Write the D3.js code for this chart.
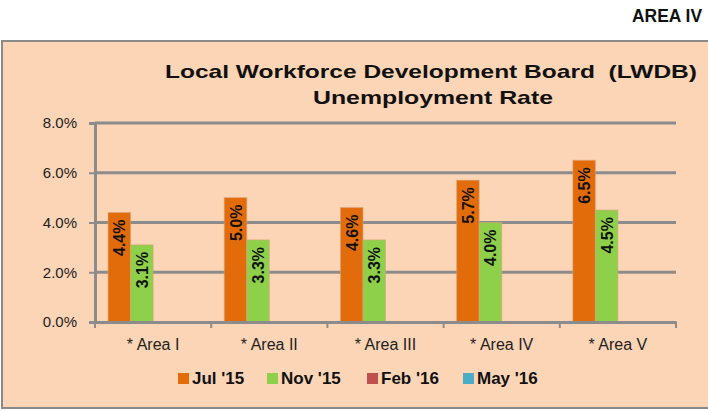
<!DOCTYPE html>
<html>
<head>
<style>
body { margin: 0; background: #fff; }
svg text { font-family: "Liberation Sans", Arial, sans-serif; white-space: pre; }
</style>
</head>
<body>
<svg id="chart" width="708" height="411"></svg>
<script src="https://d3js.org/d3.v7.min.js"></script>
<script>

var categories = ["* Area I", "* Area II", "* Area III", "* Area IV", "* Area V"];
var seriesNames = ["Jul '15", "Nov '15", "Feb '16", "May '16"];
var seriesColors = ["#E36C0A", "#8ED04A", "#C0504D", "#4BACC6"];
var jul15 = [4.4, 5.0, 4.6, 5.7, 6.5];
var nov15 = [3.1, 3.3, 3.3, 4.0, 4.5];
var feb16 = [null, null, null, null, null];
var may16 = [null, null, null, null, null];
var yTicks = [0, 2, 4, 6, 8];

var seriesValues = [jul15, nov15, feb16, may16];

var svg = d3.select("#chart"),
    margin = {top: 123, left: 95, right: 32, bottom: 89},
    width = +svg.attr("width") - margin.left - margin.right,
    height = +svg.attr("height") - margin.top - margin.bottom;

// header tag
svg.append("text")
    .attr("x", 632).attr("y", 22)
    .attr("font-weight", "bold")
    .attr("font-size", 18)
    .attr("textLength", 70)
    .attr("lengthAdjust", "spacingAndGlyphs")
    .attr("fill", "#111")
    .text("AREA IV");

// chart box
svg.append("rect")
    .attr("x", 2).attr("y", 41)
    .attr("width", 710).attr("height", 367)
    .attr("fill", "#FBD5B6")
    .attr("stroke", "#8a8a8a")
    .attr("stroke-width", 2);

svg.append("text")
    .attr("x", 165).attr("y", 78)
    .attr("font-weight", "bold")
    .attr("font-size", 19)
    .attr("textLength", 532)
    .attr("lengthAdjust", "spacingAndGlyphs")
    .attr("fill", "#111")
    .text("Local Workforce Development Board  (LWDB)");

svg.append("text")
    .attr("x", 313).attr("y", 104)
    .attr("font-weight", "bold")
    .attr("font-size", 19)
    .attr("textLength", 240)
    .attr("lengthAdjust", "spacingAndGlyphs")
    .attr("fill", "#111")
    .text("Unemployment Rate");

var g = svg.append("g").attr("transform", "translate(" + margin.left + "," + margin.top + ")");

var x0 = d3.scaleBand().domain(categories).range([0, width]).padding(0);
var x1 = d3.scaleBand().domain(seriesNames).range([0, x0.bandwidth()]).paddingInner(0).paddingOuter(0.58);
var y = d3.scaleLinear().domain([0, 8]).range([height, 0]);

// gridlines
g.append("g")
  .selectAll("line")
  .data(yTicks.filter(function(d) { return d > 0; }))
  .enter().append("line")
    .attr("x1", 0).attr("x2", width)
    .attr("y1", function(d) { return y(d); })
    .attr("y2", function(d) { return y(d); })
    .attr("stroke", "#8c8c8c")
    .attr("stroke-width", 3);

// y axis
var yAxis = g.append("g")
    .call(d3.axisLeft(y).tickValues(yTicks).tickSize(6).tickFormat(function(d) { return d.toFixed(1) + "%"; }));
yAxis.select(".domain").attr("stroke", "#8c8c8c").attr("stroke-width", 3);
yAxis.selectAll(".tick line").attr("stroke", "#8c8c8c").attr("stroke-width", 2);
yAxis.selectAll(".tick text").attr("x", -18).attr("font-size", 15).attr("fill", "#222");

// bars
var groups = g.append("g")
  .selectAll("g")
  .data(categories)
  .enter().append("g")
    .attr("transform", function(d) { return "translate(" + x0(d) + ",0)"; });

var barData = function(c, i) {
  return seriesNames.map(function(s, j) { return {series: s, color: seriesColors[j], value: seriesValues[j][i]}; })
    .filter(function(d) { return d.value != null; });
};

groups.selectAll("rect")
  .data(barData)
  .enter().append("rect")
    .attr("x", function(d) { return x1(d.series); })
    .attr("y", function(d) { return y(d.value); })
    .attr("width", x1.bandwidth())
    .attr("height", function(d) { return height - y(d.value); })
    .attr("fill", function(d) { return d.color; })
    .attr("stroke", "#d9a27a")
    .attr("stroke-opacity", 0.6)
    .attr("stroke-width", 1);

// value labels, rotated inside the top of the bar
groups.selectAll("text.val")
  .data(barData)
  .enter().append("text")
    .attr("class", "val")
    .attr("transform", function(d) {
      return "translate(" + (x1(d.series) + x1.bandwidth() / 2 + 6) + "," + (y(d.value) + 7) + ") rotate(-90)";
    })
    .attr("text-anchor", "end")
    .attr("font-weight", "bold")
    .attr("font-size", 16)
    .attr("fill", "#111")
    .text(function(d) { return d.value.toFixed(1) + "%"; });

// x axis
var xAxis = g.append("g")
    .attr("transform", "translate(0," + height + ")")
    .call(d3.axisBottom(x0).tickSize(0));
xAxis.select(".domain").attr("stroke", "#8c8c8c").attr("stroke-width", 3);
xAxis.selectAll(".tick text").attr("y", 17).attr("font-size", 16).attr("fill", "#222");
xAxis.append("g")
  .selectAll("line")
  .data(d3.range(categories.length + 1))
  .enter().append("line")
    .attr("x1", function(i) { return i * x0.step(); })
    .attr("x2", function(i) { return i * x0.step(); })
    .attr("y1", 0).attr("y2", 6)
    .attr("stroke", "#8c8c8c")
    .attr("stroke-width", 2);

// legend
var legendX = [178, 267, 367, 463];
var legend = svg.append("g")
  .selectAll("g")
  .data(seriesNames)
  .enter().append("g")
    .attr("transform", function(d, i) { return "translate(" + legendX[i] + ",373)"; });
legend.append("rect")
    .attr("width", 11).attr("height", 11)
    .attr("fill", function(d, i) { return seriesColors[i]; });
legend.append("text")
    .attr("x", 14).attr("y", 11)
    .attr("font-weight", "bold")
    .attr("font-size", 17)
    .attr("fill", "#111")
    .text(function(d) { return d; });

</script>
</body>
</html>
